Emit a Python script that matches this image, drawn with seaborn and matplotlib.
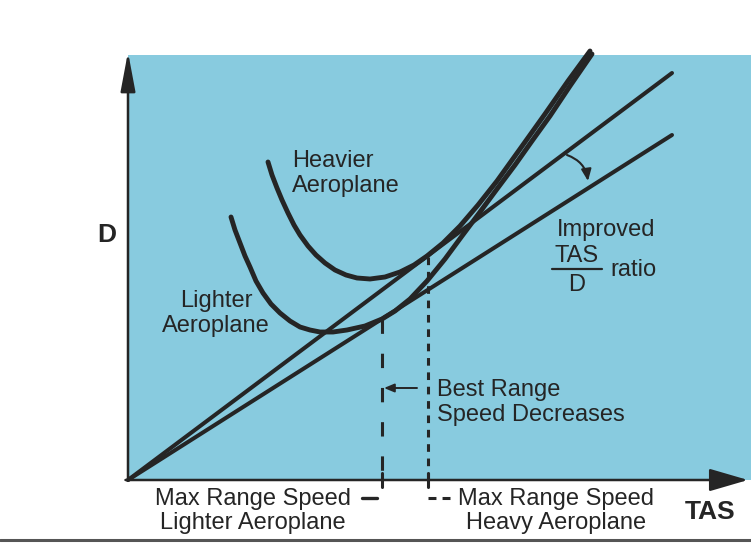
import matplotlib.pyplot as plt
import seaborn as sns
from matplotlib.lines import Line2D

# ------------------- Data (arbitrary units) -------------------
heavier_tas = [28.0, 28.8, 29.8, 30.8, 32.0, 33.2, 34.4, 36.0, 37.6, 39.4,
               41.4, 43.6, 45.8, 48.4, 51.4, 54.4, 57.2, 59.8, 63.0, 66.4,
               70.0, 73.8, 78.4, 83.4, 88.0, 92.4]
heavier_drag = [63.6, 61.0, 58.4, 56.0, 53.4, 51.0, 49.0, 46.8, 45.0, 43.4,
                42.0, 41.0, 40.4, 40.2, 40.6, 41.6, 43.0, 44.8, 47.4, 50.8,
                55.0, 59.8, 66.2, 73.2, 79.8, 85.8]

lighter_tas = [20.6, 21.4, 22.4, 23.4, 24.4, 25.6, 27.0, 28.6, 30.4, 32.4,
               34.4, 36.4, 38.4, 41.0, 43.8, 47.4, 50.8, 53.4, 56.4, 59.8,
               63.4, 66.8, 70.4, 73.8, 77.4, 80.8, 84.4, 88.4, 92.8]
lighter_drag = [52.6, 50.0, 47.4, 44.8, 42.6, 39.8, 37.4, 35.2, 33.4, 31.8,
                30.6, 30.0, 29.6, 29.6, 30.0, 30.8, 32.2, 33.8, 36.2, 39.8,
                44.2, 48.8, 53.6, 58.2, 63.0, 67.8, 72.8, 78.8, 85.2]

# tangents from the origin
tangent_tas = [0.0, 108.8]
tangent_heavier = [0.0, 81.4]
tangent_lighter = [0.0, 69.0]

# max range speeds and where the tangents touch
max_range_lighter = 50.8
touch_lighter = 32.2
max_range_heavier = 60.0
touch_heavier = 44.6

# ------------------- Style -------------------
sns.set_style('white')
plt.rcParams['font.family'] = ['Liberation Sans', 'DejaVu Sans']
blue = '#88CBDF'
ink = '#252525'
fs = 17
ls = 1.12

fig = plt.figure(figsize=(7.51, 5.48), dpi=100)
ax = fig.add_axes([128 / 751, 68 / 548, 623 / 751, 425 / 548])
ax.set_facecolor(blue)
ax.set_xlim(0, 124.6)
ax.set_ylim(0, 85)
for s in ax.spines.values():
    s.set_visible(False)
ax.set_xticks([])
ax.set_yticks([])

# ------------------- Curves and tangents -------------------
curve_kw = dict(color=ink, linewidth=3.5, sort=False, ax=ax, clip_on=False,
                solid_joinstyle='round')
sns.lineplot(x=heavier_tas, y=heavier_drag, **curve_kw)
sns.lineplot(x=lighter_tas, y=lighter_drag, **curve_kw)
line_kw = dict(color=ink, linewidth=2.9, sort=False, ax=ax, clip_on=False)
sns.lineplot(x=tangent_tas, y=tangent_heavier, **line_kw)
sns.lineplot(x=tangent_tas, y=tangent_lighter, **line_kw)

# dashed verticals down to the TAS axis
ax.plot([max_range_lighter, max_range_lighter], [touch_lighter, -1.4],
        color=ink, lw=2.2, linestyle=(0, (4.7, 6.5)), clip_on=False)
ax.plot([max_range_heavier, max_range_heavier], [touch_heavier, -1.4],
        color=ink, lw=2.2, linestyle=(0, (2.5, 2.2)), clip_on=False)
for xv in (max_range_lighter, max_range_heavier):
    ax.plot([xv, xv], [-1.4, 1.4], color=ink, lw=2.2, clip_on=False)

# ------------------- Axis arrows -------------------
ax.annotate('', xy=(0, 85.6), xytext=(0, 0), annotation_clip=False,
            arrowprops=dict(arrowstyle='-|>,head_length=2.4,head_width=0.45',
                            color=ink, lw=1.8, shrinkA=0, shrinkB=0))
ax.annotate('', xy=(124.0, 0), xytext=(-0.5, 0), annotation_clip=False,
            arrowprops=dict(arrowstyle='-|>,head_length=2.4,head_width=0.7',
                            color=ink, lw=1.8, shrinkA=0, shrinkB=0))
ax.text(-4.2, 49.0, 'D', fontsize=19, fontweight='bold', color=ink,
        ha='center', va='center', clip_on=False)
ax.text(116.4, -6.4, 'TAS', fontsize=19, fontweight='bold', color=ink,
        ha='center', va='center', clip_on=False)

# ------------------- Labels inside the chart -------------------
ax.text(32.8, 61.3, 'Heavier\nAeroplane', fontsize=fs, color=ink,
        ha='left', va='center', linespacing=ls)
ax.text(17.6, 33.3, 'Lighter\nAeroplane', fontsize=fs, color=ink,
        ha='center', va='center', linespacing=ls)
ax.text(85.8, 50.0, 'Improved', fontsize=fs, color=ink, ha='left', va='center')
ax.text(89.8, 44.8, 'TAS', fontsize=fs, color=ink, ha='center', va='center')
ax.plot([84.8, 94.8], [42.2, 42.2], color=ink, lw=1.6)
ax.text(89.8, 39.0, 'D', fontsize=fs, color=ink, ha='center', va='center')
ax.text(96.4, 42.0, 'ratio', fontsize=fs, color=ink, ha='left', va='center')

ax.annotate('', xy=(92.0, 59.8), xytext=(87.8, 65.0),
            arrowprops=dict(arrowstyle='-|>,head_length=0.7,head_width=0.3',
                            color=ink, lw=1.5, shrinkA=0, shrinkB=0,
                            connectionstyle='arc3,rad=-0.3'))

ax.text(61.8, 15.5, 'Best Range\nSpeed Decreases', fontsize=fs, color=ink,
        ha='left', va='center', linespacing=ls)
ax.annotate('', xy=(51.2, 18.4), xytext=(57.8, 18.4),
            arrowprops=dict(arrowstyle='-|>,head_length=0.6,head_width=0.25',
                            color=ink, lw=1.4, shrinkA=0, shrinkB=0))

# ------------------- Labels under the TAS axis -------------------
ax.text(25.0, -6.2, 'Max Range Speed\nLighter Aeroplane', fontsize=fs,
        color=ink, ha='center', va='center', linespacing=ls, clip_on=False)
ax.plot([46.8, 49.8], [-3.6, -3.6], color=ink, lw=2.4, clip_on=False)
ax.text(85.6, -6.2, 'Max Range Speed\nHeavy Aeroplane', fontsize=fs,
        color=ink, ha='center', va='center', linespacing=ls, clip_on=False)
ax.plot([60.0, 64.4], [-3.6, -3.6], color=ink, lw=2.2,
        linestyle=(0, (2.6, 2.0)), clip_on=False)

# page edge line at the bottom
fig.add_artist(Line2D([0, 1], [8 / 548, 8 / 548], color='#555555', lw=2.2,
                      transform=fig.transFigure))

fig.savefig('out.png', dpi=100, facecolor='white')
